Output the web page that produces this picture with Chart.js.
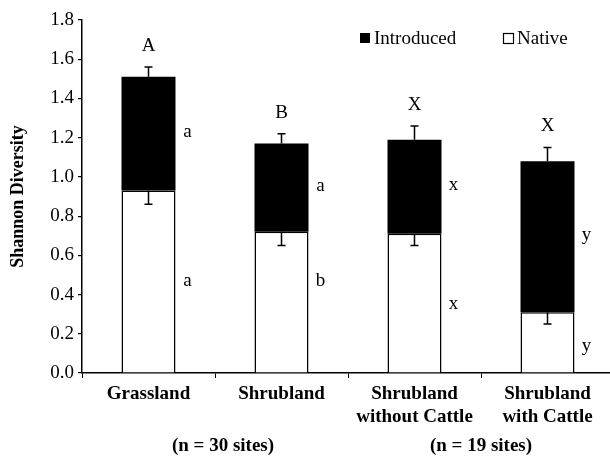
<!DOCTYPE html>
<html>
<head>
<meta charset="utf-8">
<script src="https://cdn.jsdelivr.net/npm/chart.js@4"></script>
<style>
  html, body { margin: 0; padding: 0; background: #fff; overflow: hidden; }
  #wrap { width: 640px; height: 458px; }
</style>
</head>
<body>
<div id="wrap"><canvas id="diversityChart" width="640" height="458"></canvas></div>
<script>
// habitat categories
const categories = [
    ['Grassland'],
    ['Shrubland'],
    ['Shrubland', 'without Cattle'],
    ['Shrubland', 'with Cattle']
];

// mean Shannon diversity, stacked: native at the bottom, introduced on top
const nativeValues = [0.93, 0.72, 0.71, 0.31];
const introducedValues = [0.58, 0.45, 0.48, 0.77];

// standard errors (native shown downwards, total shown upwards)
const nativeErrors = [0.07, 0.07, 0.06, 0.06];
const totalErrors = [0.05, 0.05, 0.07, 0.07];

// significance letters
const totalLetters = ['A', 'B', 'X', 'X'];
const introducedLetters = ['a', 'a', 'x', 'y'];
const nativeLetters = ['a', 'b', 'x', 'y'];
const nativeLetterAt = [0.47, 0.47, 0.35, 0.14];

const yTicks = [0, 0.2, 0.4, 0.6, 0.8, 1.0, 1.2, 1.4, 1.6, 1.8];

const FONT = '"Liberation Serif", "Times New Roman", serif';

// draws error bars, letters, legend and sample size notes
const annotations = {
    id: 'annotations',
    afterDatasetsDraw(chart) {
        const ctx = chart.ctx;
        const y = chart.scales.y;
        const x = chart.scales.x;
        const bars = chart.getDatasetMeta(0).data;

        ctx.save();
        ctx.strokeStyle = '#000';
        ctx.lineWidth = 1.5;
        ctx.fillStyle = '#000';
        ctx.textAlign = 'center';
        ctx.textBaseline = 'middle';

        bars.forEach((bar, i) => {
            const cx = bar.x;
            const total = nativeValues[i] + introducedValues[i];
            const yTotal = y.getPixelForValue(total);
            const yTotalErr = y.getPixelForValue(total + totalErrors[i]);
            const yNat = y.getPixelForValue(nativeValues[i]);
            const yNatErr = y.getPixelForValue(nativeValues[i] - nativeErrors[i]);

            ctx.beginPath();
            ctx.moveTo(cx, yTotal);
            ctx.lineTo(cx, yTotalErr);
            ctx.moveTo(cx - 4, yTotalErr);
            ctx.lineTo(cx + 4, yTotalErr);
            ctx.moveTo(cx, yNat);
            ctx.lineTo(cx, yNatErr);
            ctx.moveTo(cx - 4, yNatErr);
            ctx.lineTo(cx + 4, yNatErr);
            ctx.stroke();

            ctx.font = '19px ' + FONT;
            ctx.fillText(totalLetters[i], cx, yTotalErr - 21);

            const lx = cx + bar.width / 2 + 12;
            ctx.fillText(introducedLetters[i], lx, y.getPixelForValue(nativeValues[i] + introducedValues[i] / 2) - 2);
            ctx.fillText(nativeLetters[i], lx, y.getPixelForValue(nativeLetterAt[i]));
        });

        // legend
        ctx.font = '19px ' + FONT;
        ctx.textAlign = 'left';
        ctx.fillRect(360, 33, 10, 10);
        ctx.fillText('Introduced', 374, 39);
        ctx.lineWidth = 1.2;
        ctx.strokeRect(503.5, 33.5, 10, 10);
        ctx.fillText('Native', 517, 39);

        // sample sizes
        ctx.font = 'bold 19px ' + FONT;
        ctx.textAlign = 'center';
        const mid1 = (x.getPixelForValue(0) + x.getPixelForValue(1)) / 2 + 8;
        const mid2 = (x.getPixelForValue(2) + x.getPixelForValue(3)) / 2;
        ctx.fillText('(n = 30 sites)', mid1, 446);
        ctx.fillText('(n = 19 sites)', mid2, 446);
        ctx.restore();
    }
};

const chart = new Chart(document.getElementById('diversityChart').getContext('2d'), {
    type: 'bar',
    data: {
        labels: categories,
        datasets: [{
            label: 'Native',
            data: nativeValues,
            backgroundColor: '#fff',
            borderColor: '#000',
            borderWidth: 1.5,
            borderSkipped: 'start'
        }, {
            label: 'Introduced',
            data: introducedValues,
            backgroundColor: '#000',
            borderWidth: 0
        }]
    },
    options: {
        responsive: false,
        animation: false,
        layout: {
            padding: { left: 0, right: 26, top: 20, bottom: 0 }
        },
        datasets: {
            bar: { categoryPercentage: 1, barPercentage: 0.406 }
        },
        plugins: {
            legend: { display: false },
            tooltip: { enabled: false }
        },
        scales: {
            x: {
                stacked: true,
                afterFit: function(scale) { scale.height = 85; },
                grid: {
                    offset: true,
                    drawOnChartArea: false,
                    tickLength: 5,
                    color: '#000',
                    lineWidth: 1
                },
                border: { display: true, color: '#000', width: 1.5 },
                ticks: {
                    color: '#000',
                    padding: 5,
                    maxRotation: 0,
                    autoSkip: false,
                    font: { family: FONT, size: 19, weight: 'bold' }
                }
            },
            y: {
                stacked: true,
                min: 0,
                max: 1.8,
                afterFit: function(scale) { scale.width = 82; },
                afterBuildTicks: function(scale) {
                    scale.ticks = yTicks.map(v => ({ value: v }));
                },
                grid: {
                    drawOnChartArea: false,
                    tickLength: 4,
                    color: '#000',
                    lineWidth: 1.2
                },
                border: { display: true, color: '#000', width: 1.5 },
                ticks: {
                    color: '#000',
                    padding: 4,
                    font: { family: FONT, size: 19 },
                    callback: function(value) { return Number(value).toFixed(1); }
                },
                title: {
                    display: true,
                    text: 'Shannon Diversity',
                    color: '#000',
                    padding: { top: 8, bottom: 0 },
                    font: { family: FONT, size: 18, weight: 'bold' }
                }
            }
        }
    },
    plugins: [annotations]
});
</script>
</body>
</html>
